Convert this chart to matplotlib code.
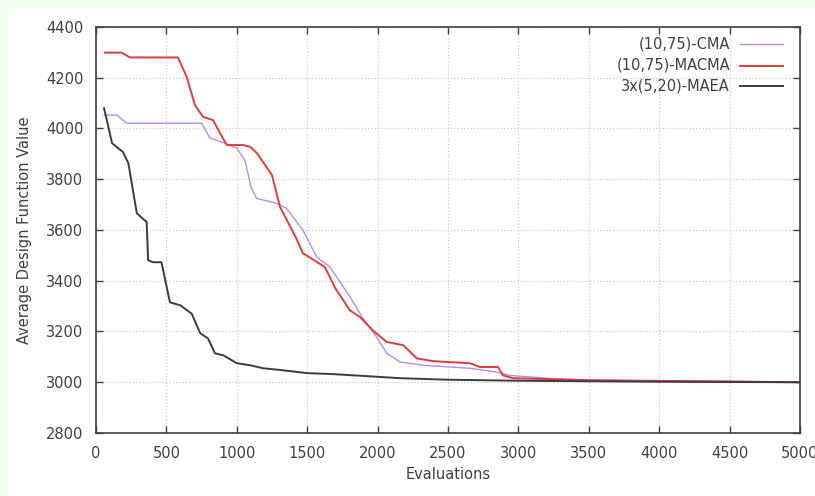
import matplotlib.pyplot as plt
from matplotlib.patches import Rectangle

# convergence curves
cma_x = [57, 147, 218, 750, 810, 916, 999, 1058, 1100, 1140, 1283, 1354, 1470, 1567, 1662,
         1804, 1896, 1993, 2064, 2159, 2323, 2656, 2847, 2940, 3104, 3224, 3500, 4000, 4500, 5000]
cma_y = [4053, 4053, 4021, 4021, 3962, 3942, 3923, 3875, 3770, 3725, 3705, 3685, 3599, 3494, 3454,
         3336, 3252, 3178, 3115, 3080, 3067, 3055, 3040, 3027, 3020, 3015, 3008, 3005, 3003, 3001]

macma_x = [64, 182, 241, 582, 644, 703, 760, 831, 928, 1044, 1094, 1143, 1250, 1307, 1420, 1470,
           1526, 1626, 1700, 1804, 1875, 1967, 2064, 2182, 2279, 2397, 2656, 2727, 2855, 2891,
           2962, 3500, 4500, 5000]
macma_y = [4299, 4299, 4280, 4280, 4204, 4092, 4046, 4033, 3935, 3935, 3928, 3903, 3816, 3691, 3570, 3508,
           3489, 3454, 3370, 3283, 3257, 3204, 3159, 3146, 3094, 3083, 3075, 3060, 3060, 3027,
           3016, 3008, 3003, 3000]

maea_x = [57, 114, 192, 230, 290, 360, 370, 405, 465, 525, 600, 680, 740, 795, 845, 905, 1000,
          1094, 1190, 1330, 1500, 1685, 1925, 2160, 2500, 3000, 4000, 5000]
maea_y = [4080, 3942, 3907, 3863, 3666, 3631, 3481, 3473, 3473, 3315, 3303, 3270, 3193, 3173, 3114, 3106, 3075,
          3067, 3055, 3047, 3036, 3032, 3024, 3016, 3010, 3006, 3002, 3000]

labels = ['(10,75)-CMA', '(10,75)-MACMA', '3x(5,20)-MAEA']
colors = ['#b48cf0', '#e03c3c', '#3c3c3c']
widths = [1.0, 1.4, 1.4]

plt.rcParams['font.family'] = 'DejaVu Sans'

fig = plt.figure(figsize=(8.15, 4.96), dpi=100, facecolor='#f0fff0')
# white panel inside the light green border
fig.patches.append(Rectangle((8 / 815, 0), 1, 1 - 8 / 496, transform=fig.transFigure,
                             facecolor='white', edgecolor='none', zorder=-10))
ax = fig.add_axes([96 / 815, 1 - 433 / 496, 704 / 815, 406 / 496])

ax.plot(cma_x, cma_y, color=colors[0], lw=widths[0])
ax.plot(macma_x, macma_y, color=colors[1], lw=widths[1])
ax.plot(maea_x, maea_y, color=colors[2], lw=widths[2])

ax.set_xlim(0, 5000)
ax.set_ylim(2800, 4400)
ax.set_xticks(range(0, 5001, 500))
ax.set_yticks(range(2800, 4401, 200))
ax.tick_params(direction='in', length=5, width=1, top=True, right=True,
               labelsize=10.5, colors='#404040', pad=9)
for s in ax.spines.values():
    s.set_color('#404040')
    s.set_linewidth(1.2)
ax.grid(True, color='#cccccc', linestyle=':', linewidth=0.9)

ax.set_xlabel('Evaluations', fontsize=10.5, color='#404040', labelpad=5)
ax.set_ylabel('Average Design Function Value', fontsize=10.5, color='#404040', labelpad=10)

# gnuplot style key: right aligned text, sample to the right
rows = [44, 65.5, 86]
for lab, c, w, r in zip(labels, colors, widths, rows):
    yy = (433 - r) / 406
    ax.text((730 - 96) / 704, yy, lab, transform=ax.transAxes, ha='right', va='center',
            fontsize=10.5, color='#404040')
    ax.plot([(740 - 96) / 704, (783 - 96) / 704], [yy, yy], transform=ax.transAxes,
            color=c, lw=w, clip_on=False)

fig.savefig('out.png', dpi=100, facecolor=fig.get_facecolor())
